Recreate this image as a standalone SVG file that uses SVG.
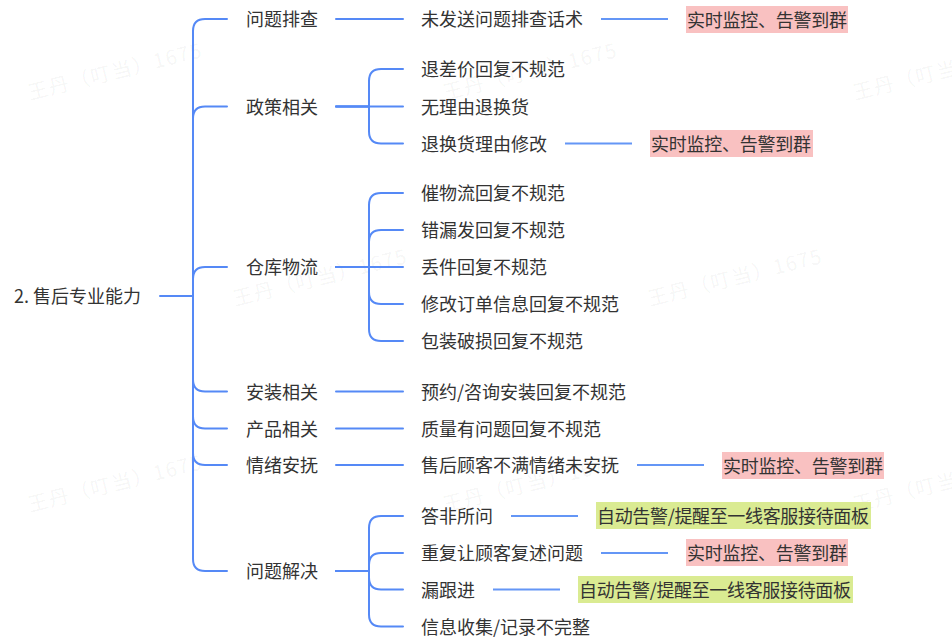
<svg xmlns="http://www.w3.org/2000/svg" width="952" height="644" viewBox="0 0 952 644">
<style>
text{font-family:"Noto Sans CJK SC","Noto Sans",sans-serif;font-size:18px;fill:#333;dominant-baseline:central}
.wm{font-size:20px;letter-spacing:1.5px;fill:#000;fill-opacity:0.05;dominant-baseline:auto}
.c{fill:none;stroke:#5589f6;stroke-width:2;stroke-linecap:round}
.l3{fill:none;stroke:#6496f6;stroke-width:2}
.pink{fill:#f9c1c1}
.green{fill:#daeb92}
</style>
<rect width="952" height="644" fill="#fff"/>
<g id="watermarks">
<text class="wm" transform="translate(30,100) rotate(-14)">王丹（叮当）1675</text>
<text class="wm" transform="translate(445,100) rotate(-14)">王丹（叮当）1675</text>
<text class="wm" transform="translate(855,100) rotate(-14)">王丹（叮当）1675</text>
<text class="wm" transform="translate(235,306) rotate(-14)">王丹（叮当）1675</text>
<text class="wm" transform="translate(650,306) rotate(-14)">王丹（叮当）1675</text>
<text class="wm" transform="translate(30,512) rotate(-14)">王丹（叮当）1675</text>
<text class="wm" transform="translate(445,512) rotate(-14)">王丹（叮当）1675</text>
<text class="wm" transform="translate(855,512) rotate(-14)">王丹（叮当）1675</text>
</g>
<g id="connectors">
<path class="c" d="M160 296H193"/>
<path class="c" d="M193 296V31Q193 19 205 19H227"/>
<path class="c" d="M193 296V118.5Q193 106.5 205 106.5H227"/>
<path class="c" d="M193 296V279Q193 267 205 267H227"/>
<path class="c" d="M193 296V379.5Q193 391.5 205 391.5H227"/>
<path class="c" d="M193 296V416.5Q193 428.5 205 428.5H227"/>
<path class="c" d="M193 296V453Q193 465 205 465H227"/>
<path class="c" d="M193 296V559Q193 571 205 571H227"/>
<path class="c" d="M336 19H403"/>
<path class="c" d="M336 106.5H369V81Q369 69 381 69H403"/>
<path class="c" d="M336 106.5H403"/>
<path class="c" d="M336 106.5H369V131.5Q369 143.5 381 143.5H403"/>
<path class="c" d="M336 267H369V205Q369 193 381 193H403"/>
<path class="c" d="M336 267H369V242Q369 230 381 230H403"/>
<path class="c" d="M336 267H403"/>
<path class="c" d="M336 267H369V292Q369 304 381 304H403"/>
<path class="c" d="M336 267H369V329Q369 341 381 341H403"/>
<path class="c" d="M336 391.5H403"/>
<path class="c" d="M336 428.5H403"/>
<path class="c" d="M336 465H403"/>
<path class="c" d="M336 571H369V528Q369 516 381 516H403"/>
<path class="c" d="M336 571H369V565Q369 553 381 553H403"/>
<path class="c" d="M336 571H369V577.5Q369 589.5 381 589.5H403"/>
<path class="c" d="M336 571H369V614.5Q369 626.5 381 626.5H403"/>
<path class="l3" d="M601 19H668"/>
<path class="l3" d="M565 143.5H632"/>
<path class="l3" d="M637 465H704"/>
<path class="l3" d="M511 516H578"/>
<path class="l3" d="M601 553H668"/>
<path class="l3" d="M493 589.5H560"/>
</g>
<g id="root"><text x="14" y="295">2. 售后专业能力</text></g>
<g id="n1"><text x="246" y="18">问题排查</text></g>
<g id="n2"><text x="246" y="105.5">政策相关</text></g>
<g id="n3"><text x="246" y="266">仓库物流</text></g>
<g id="n4"><text x="246" y="390.5">安装相关</text></g>
<g id="n5"><text x="246" y="427.5">产品相关</text></g>
<g id="n6"><text x="246" y="464">情绪安抚</text></g>
<g id="n7"><text x="246" y="570">问题解决</text></g>
<g id="n1a"><text x="421" y="18">未发送问题排查话术</text></g>
<g id="n2a"><text x="421" y="68">退差价回复不规范</text></g>
<g id="n2b"><text x="421" y="105.5">无理由退换货</text></g>
<g id="n2c"><text x="421" y="142.5">退换货理由修改</text></g>
<g id="n3a"><text x="421" y="192">催物流回复不规范</text></g>
<g id="n3b"><text x="421" y="229">错漏发回复不规范</text></g>
<g id="n3c"><text x="421" y="266">丢件回复不规范</text></g>
<g id="n3d"><text x="421" y="303">修改订单信息回复不规范</text></g>
<g id="n3e"><text x="421" y="340">包装破损回复不规范</text></g>
<g id="n4a"><text x="421" y="390.5">预约/咨询安装回复不规范</text></g>
<g id="n5a"><text x="421" y="427.5">质量有问题回复不规范</text></g>
<g id="n6a"><text x="421" y="464">售后顾客不满情绪未安抚</text></g>
<g id="n7a"><text x="421" y="515">答非所问</text></g>
<g id="n7b"><text x="421" y="552">重复让顾客复述问题</text></g>
<g id="n7c"><text x="421" y="588.5">漏跟进</text></g>
<g id="n7d"><text x="421" y="625.5">信息收集/记录不完整</text></g>
<g id="t1"><rect class="pink" x="686" y="6" width="162" height="27"/><text x="687" y="19" textLength="160">实时监控、告警到群</text></g>
<g id="t2"><rect class="pink" x="650" y="130" width="163" height="27"/><text x="651" y="143" textLength="160">实时监控、告警到群</text></g>
<g id="t3"><rect class="pink" x="722" y="452" width="162" height="27"/><text x="723" y="465" textLength="160">实时监控、告警到群</text></g>
<g id="t4"><rect class="green" x="596" y="502" width="275" height="27"/><text x="597" y="515" textLength="272">自动告警/提醒至一线客服接待面板</text></g>
<g id="t5"><rect class="pink" x="686" y="539" width="162" height="27"/><text x="687" y="552" textLength="160">实时监控、告警到群</text></g>
<g id="t6"><rect class="green" x="578" y="576" width="275" height="27"/><text x="579" y="589" textLength="272">自动告警/提醒至一线客服接待面板</text></g>
</svg>
